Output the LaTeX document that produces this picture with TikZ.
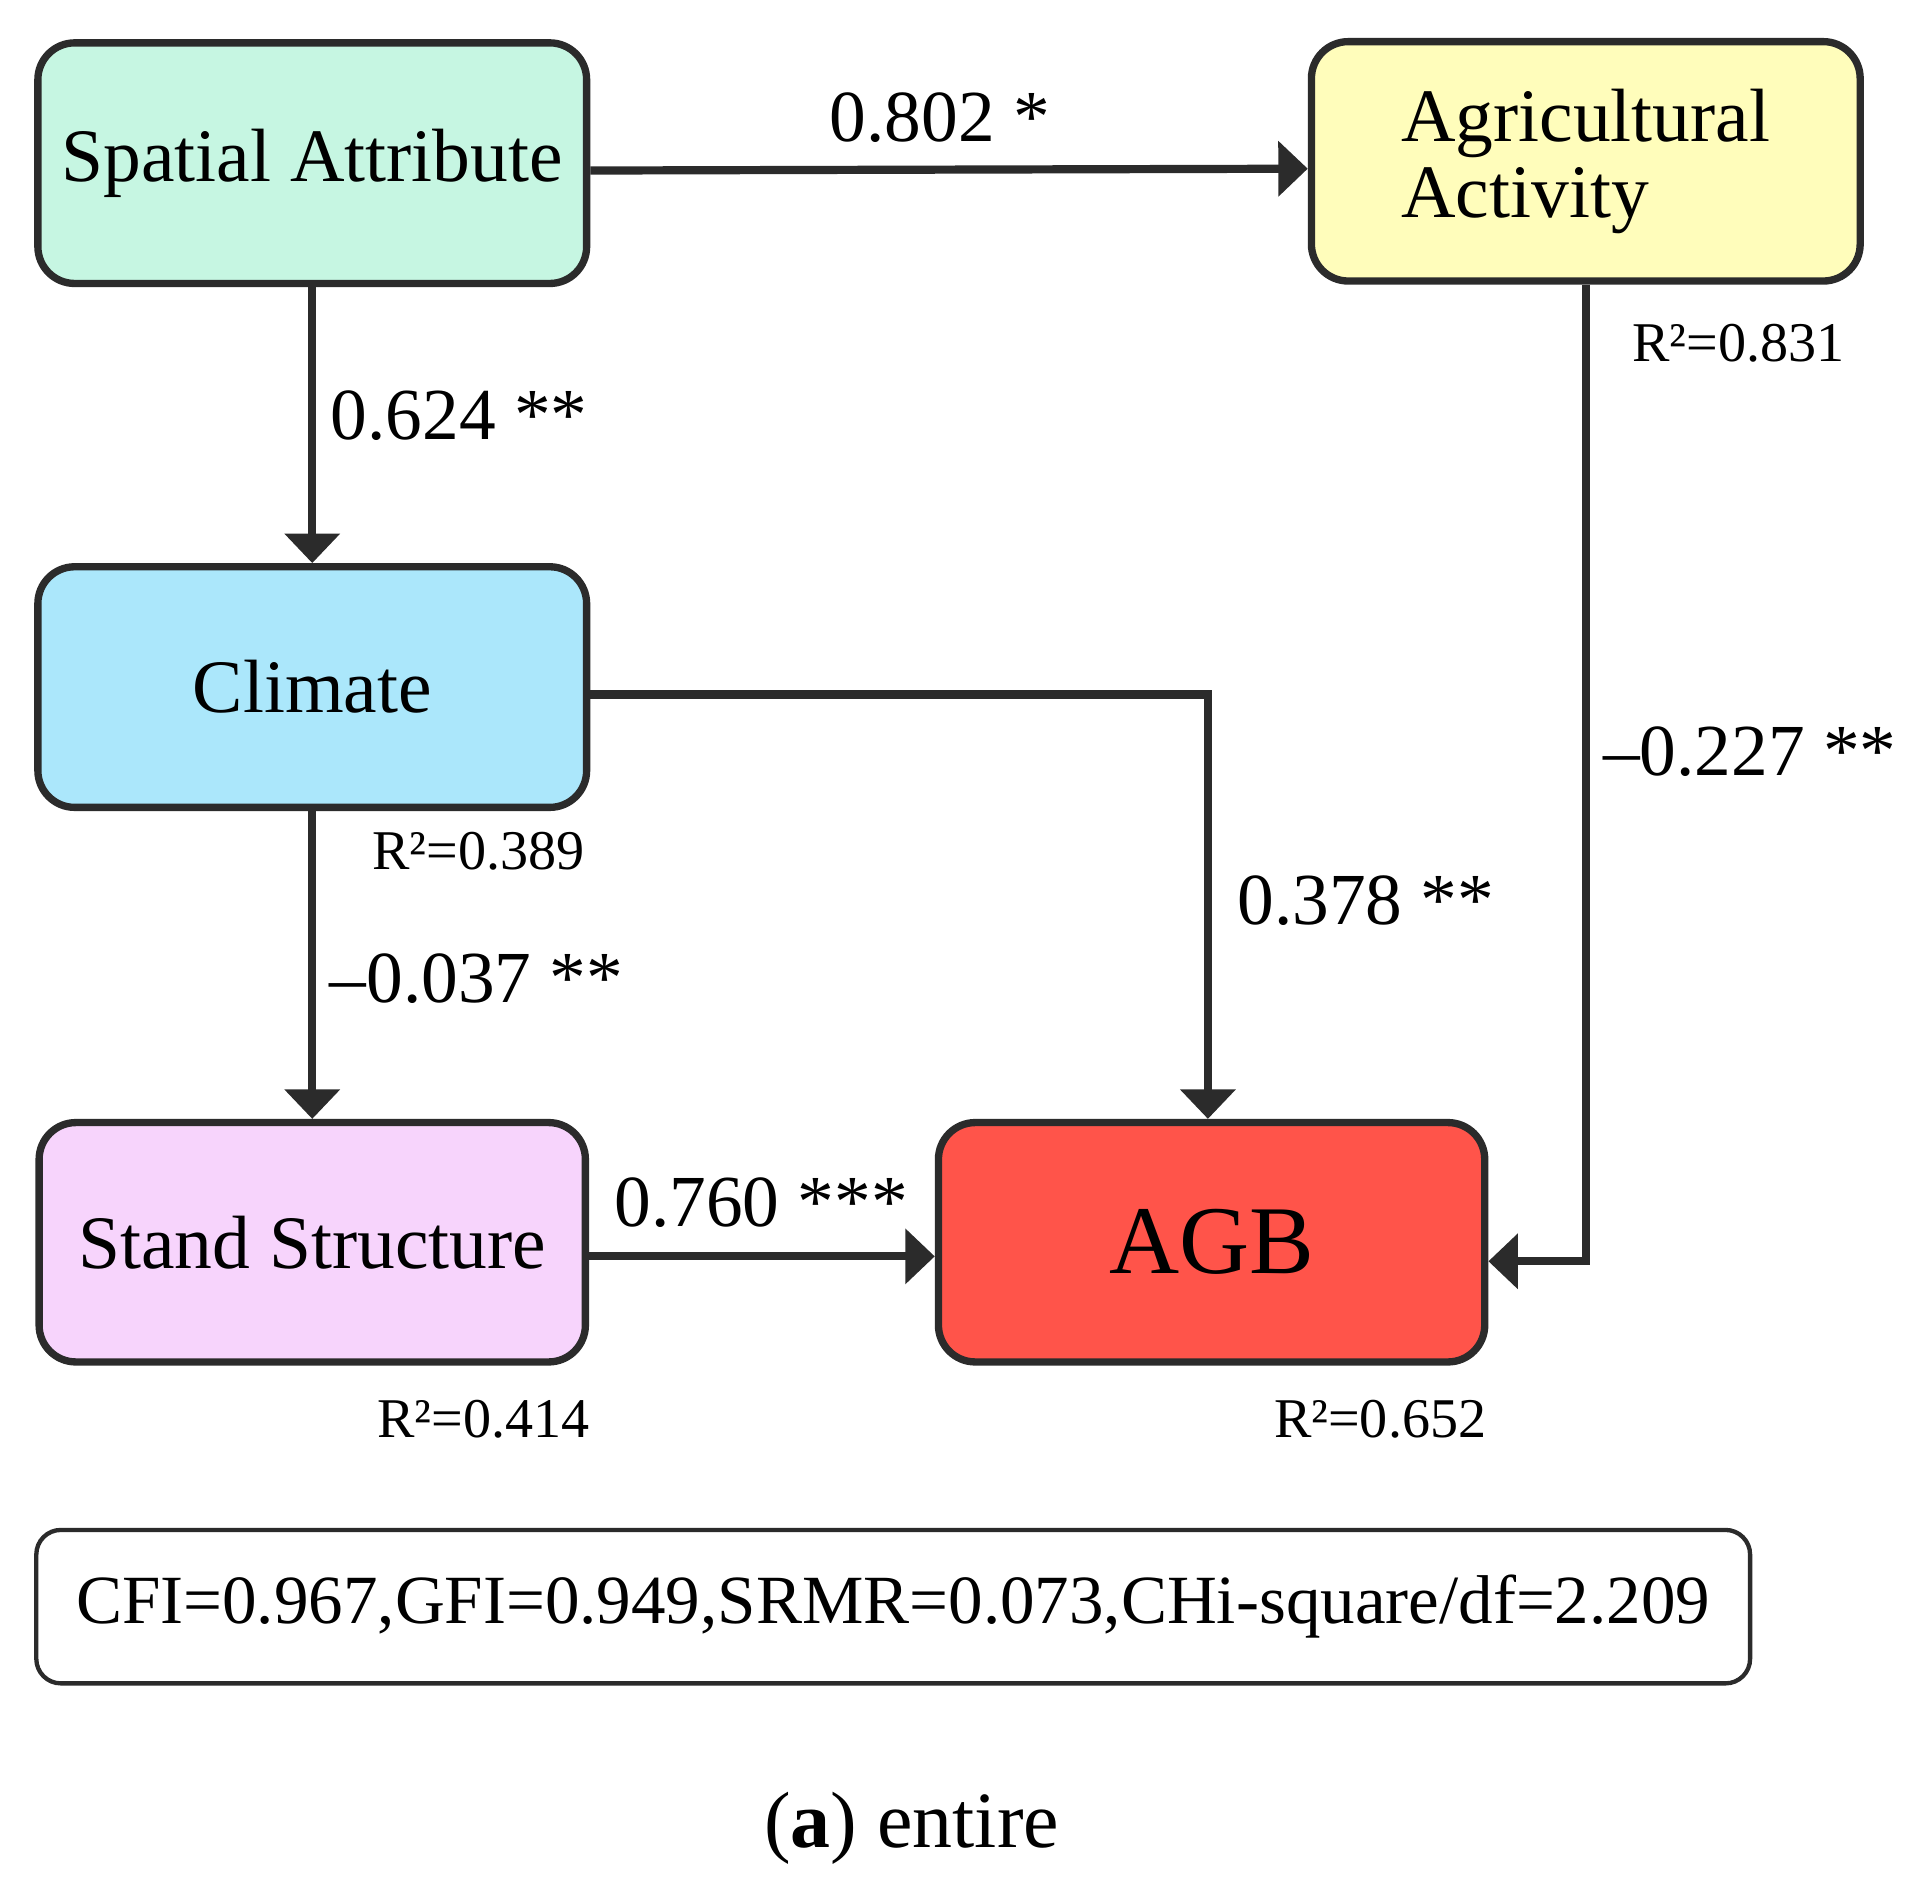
\documentclass[tikz,border=0pt]{standalone}
\usepackage{fontspec}
\setmainfont{Liberation Serif}
\usepackage{xcolor}
\usetikzlibrary{arrows.meta}

\definecolor{boxline}{HTML}{2B2B2B}
\definecolor{mint}{HTML}{C6F6E2}
\definecolor{paleyellow}{HTML}{FFFDBB}
\definecolor{skyblue}{HTML}{ABE7FB}
\definecolor{palepink}{HTML}{F7D4FC}
\definecolor{agbred}{HTML}{FF544A}

\tikzset{
  factor/.style={draw=boxline, line width=1.7pt, rounded corners=0.3cm,
    minimum width=4.47cm, minimum height=1.96cm, inner sep=0pt,
    font=\fontsize{17.5}{17.5}\selectfont},
  arr/.style={draw=boxline, line width=1.9pt,
    -{Triangle[length=0.24cm, width=0.44cm]}},
  coef/.style={font=\fontsize{17}{17}\selectfont, inner sep=0pt},
  rsq/.style={font=\fontsize{13}{13}\selectfont, inner sep=0pt, anchor=east},
  fitbox/.style={draw=boxline, line width=1pt, rounded corners=0.2cm,
    minimum width=13.96cm, minimum height=1.25cm, inner sep=0pt,
    font=\fontsize{16}{16}\selectfont}
}

\begin{document}
\begin{tikzpicture}[x=0.01cm, y=-0.01cm]
        % 画布范围
        \useasboundingbox (0,0) rectangle (1560,1534);

        % 五个潜变量
        \node[factor, fill=mint] (SA) at (254.5,133) {Spatial Attribute};
        \node[factor, fill=paleyellow, align=left, minimum height=1.95cm] (AA) at (1292.5,131.5) {Agricultural\\Activity};
        \node[factor, fill=skyblue] (CL) at (254.5,560) {Climate};
        \node[factor, fill=palepink, minimum width=4.45cm, minimum height=1.95cm] (SS) at (254.5,1012.5) {Stand Structure};
        \node[factor, fill=agbred, minimum width=4.45cm, minimum height=1.95cm,
              font=\fontsize{22.5}{22.5}\selectfont] (AGB) at (987.5,1012.5) {AGB};

        % 路径箭头
        \draw[arr] ([yshift=-0.06cm]SA.east) -- ([yshift=-0.06cm]AA.west);
        \draw[arr] (SA) -- (CL);
        \draw[arr] (CL) -- (SS);
        \draw[arr] ([yshift=-0.06cm]CL.east) -| ([xshift=-0.03cm]AGB.north);
        \draw[arr] ([yshift=-0.115cm]SS.east) -- ([yshift=-0.115cm]AGB.west);
        \draw[arr] (AA.south) |- ([yshift=-0.155cm]AGB.east);

        % 路径系数
        \node[coef] (c802) at (766,96) {0.802 *};
        \node[coef, anchor=west] (c624) at (269,339) {0.624 **};
        \node[coef, anchor=west] (c037) at (268,798) {–0.037 **};
        \node[coef, anchor=west] (c378) at (1008,734) {0.378 **};
        \node[coef, anchor=west] (c760) at (500,980) {0.760 ***};
        \node[coef, anchor=west] (c227) at (1306,613) {–0.227 **};

        % 解释度
        \node[rsq] (r831) at (1504,280) {R²=0.831};
        \node[rsq] (r389) at (477,694) {R²=0.389};
        \node[rsq] (r414) at (481,1157) {R²=0.414};
        \node[rsq] (r652) at (1212,1157) {R²=0.652};

        % 拟合指标
        \node[fitbox] (fit) at (728,1309.5) {CFI=0.967,GFI=0.949,SRMR=0.073,CHi-square/df=2.209};

        % 图题
        \node[font=\fontsize{18.5}{18.5}\selectfont] (cap) at (743,1490) {(\textbf{a}) entire};
\end{tikzpicture}
\end{document}
